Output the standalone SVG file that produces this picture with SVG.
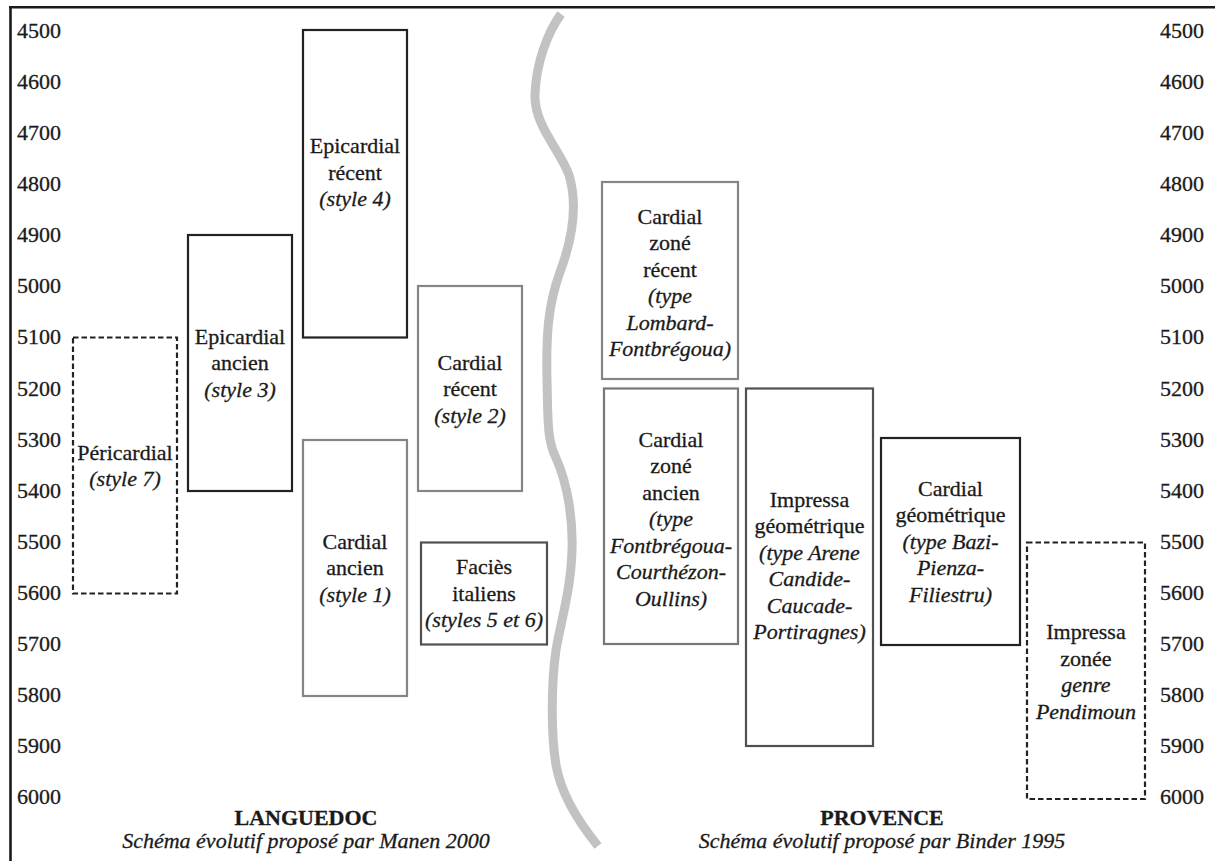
<svg xmlns="http://www.w3.org/2000/svg" width="1215" height="861" viewBox="0 0 1215 861">
<style>
text{font-family:'Liberation Serif','Times New Roman',serif;font-size:22px;fill:#1a1a1a;stroke:#1a1a1a;stroke-width:0.3}
.ax{text-anchor:start}
.axr{text-anchor:end}
.c{text-anchor:middle}
.i{font-style:italic}
.b{font-weight:bold}
.box{fill:#fff;stroke-width:2.2}
.k{stroke:#222}
.g{stroke:#858585}
.g2{stroke:#777}
.d{stroke:#505050}
.dash{stroke:#222;stroke-dasharray:5.5 3}
</style>
<rect x="0" y="0" width="1215" height="861" fill="#fff"/>
<g id="frame" stroke="#1a1a1a" stroke-width="2.6" fill="none">
<line x1="10.5" y1="6" x2="10.5" y2="861"/>
<line x1="9" y1="7.2" x2="1215" y2="7.2"/>
</g>
<g id="axis-left">
<text class="ax" x="17" y="38">4500</text>
<text class="ax" x="17" y="89">4600</text>
<text class="ax" x="17" y="140">4700</text>
<text class="ax" x="17" y="191">4800</text>
<text class="ax" x="17" y="242">4900</text>
<text class="ax" x="17" y="293">5000</text>
<text class="ax" x="17" y="344">5100</text>
<text class="ax" x="17" y="395.5">5200</text>
<text class="ax" x="17" y="446.5">5300</text>
<text class="ax" x="17" y="497.5">5400</text>
<text class="ax" x="17" y="548.5">5500</text>
<text class="ax" x="17" y="599.5">5600</text>
<text class="ax" x="17" y="651">5700</text>
<text class="ax" x="17" y="702">5800</text>
<text class="ax" x="17" y="753">5900</text>
<text class="ax" x="17" y="804">6000</text>
</g>
<g id="axis-right">
<text class="axr" x="1204" y="38">4500</text>
<text class="axr" x="1204" y="89">4600</text>
<text class="axr" x="1204" y="140">4700</text>
<text class="axr" x="1204" y="191">4800</text>
<text class="axr" x="1204" y="242">4900</text>
<text class="axr" x="1204" y="293">5000</text>
<text class="axr" x="1204" y="344">5100</text>
<text class="axr" x="1204" y="395.5">5200</text>
<text class="axr" x="1204" y="446.5">5300</text>
<text class="axr" x="1204" y="497.5">5400</text>
<text class="axr" x="1204" y="548.5">5500</text>
<text class="axr" x="1204" y="599.5">5600</text>
<text class="axr" x="1204" y="651">5700</text>
<text class="axr" x="1204" y="702">5800</text>
<text class="axr" x="1204" y="753">5900</text>
<text class="axr" x="1204" y="804">6000</text>
</g>
<g id="connectors">
<path id="divider" d="M 561 14 C 548 32, 536 62, 535 95 C 534 125, 560 150, 569 175 C 578 205, 572 240, 560 272 C 548 305, 546 335, 547 380 C 548 420, 547 440, 556 458 C 568 485, 573 520, 572 550 C 571 590, 560 625, 556 650 C 551 685, 551 735, 556 765 C 562 800, 585 830, 598 846" fill="none" stroke="#c2c2c2" stroke-width="9"/>
</g>
<g id="pericardial">
<rect class="box dash" x="73" y="337.5" width="104" height="256"/>
<text class="c" x="125" y="459.5">Péricardial</text>
<text class="c i" x="125" y="486">(style 7)</text>
</g>
<g id="epicardial-ancien">
<rect class="box k" x="188" y="235" width="104" height="256"/>
<text class="c" x="240" y="343.5">Epicardial</text>
<text class="c" x="240" y="370">ancien</text>
<text class="c i" x="240" y="396.5">(style 3)</text>
</g>
<g id="epicardial-recent">
<rect class="box k" x="303" y="30" width="104" height="307.5"/>
<text class="c" x="355" y="153">Epicardial</text>
<text class="c" x="355" y="179.5">récent</text>
<text class="c i" x="355" y="206">(style 4)</text>
</g>
<g id="cardial-ancien">
<rect class="box g" x="303" y="440" width="104" height="256"/>
<text class="c" x="355" y="548.5">Cardial</text>
<text class="c" x="355" y="575">ancien</text>
<text class="c i" x="355" y="601.5">(style 1)</text>
</g>
<g id="cardial-recent">
<rect class="box g" x="418" y="286" width="104" height="205"/>
<text class="c" x="470" y="369.5">Cardial</text>
<text class="c" x="470" y="396">récent</text>
<text class="c i" x="470" y="422.5">(style 2)</text>
</g>
<g id="facies-italiens">
<rect class="box d" x="421" y="542.5" width="126" height="102"/>
<text class="c" x="484" y="574">Faciès</text>
<text class="c" x="484" y="600.5">italiens</text>
<text class="c i" x="484" y="627">(styles 5 et 6)</text>
</g>
<g id="cardial-zone-recent">
<rect class="box g" x="602" y="182" width="136" height="197"/>
<text class="c" x="670" y="223.5">Cardial</text>
<text class="c" x="670" y="250">zoné</text>
<text class="c" x="670" y="276.5">récent</text>
<text class="c i" x="670" y="303">(type</text>
<text class="c i" x="670" y="329.5">Lombard-</text>
<text class="c i" x="670" y="356">Fontbrégoua)</text>
</g>
<g id="cardial-zone-ancien">
<rect class="box g2" x="604" y="388.5" width="134" height="255.5"/>
<text class="c" x="671" y="446.5">Cardial</text>
<text class="c" x="671" y="473">zoné</text>
<text class="c" x="671" y="499.5">ancien</text>
<text class="c i" x="671" y="526">(type</text>
<text class="c i" x="671" y="552.5">Fontbrégoua-</text>
<text class="c i" x="671" y="579">Courthézon-</text>
<text class="c i" x="671" y="605.5">Oullins)</text>
</g>
<g id="impressa-geometrique">
<rect class="box d" x="746" y="388.5" width="127" height="357.5"/>
<text class="c" x="809.5" y="506.5">Impressa</text>
<text class="c" x="809.5" y="533">géométrique</text>
<text class="c i" x="809.5" y="559.5">(type Arene</text>
<text class="c i" x="809.5" y="586">Candide-</text>
<text class="c i" x="809.5" y="612.5">Caucade-</text>
<text class="c i" x="809.5" y="639">Portiragnes)</text>
</g>
<g id="cardial-geometrique">
<rect class="box k" x="881" y="438" width="139" height="207"/>
<text class="c" x="950.5" y="495.5">Cardial</text>
<text class="c" x="950.5" y="522">géométrique</text>
<text class="c i" x="950.5" y="548.5">(type Bazi-</text>
<text class="c i" x="950.5" y="575">Pienza-</text>
<text class="c i" x="950.5" y="601.5">Filiestru)</text>
</g>
<g id="impressa-zonee">
<rect class="box dash" x="1027" y="542.5" width="118" height="256.5"/>
<text class="c" x="1086" y="639">Impressa</text>
<text class="c" x="1086" y="665.5">zonée</text>
<text class="c i" x="1086" y="692">genre</text>
<text class="c i" x="1086" y="718.5">Pendimoun</text>
</g>
<g id="languedoc-title">
<text class="c b" x="306" y="825">LANGUEDOC</text>
<text class="c i" x="306" y="848">Schéma évolutif proposé par Manen 2000</text>
</g>
<g id="provence-title">
<text class="c b" x="882" y="825">PROVENCE</text>
<text class="c i" x="882" y="848">Schéma évolutif proposé par Binder 1995</text>
</g>
</svg>
